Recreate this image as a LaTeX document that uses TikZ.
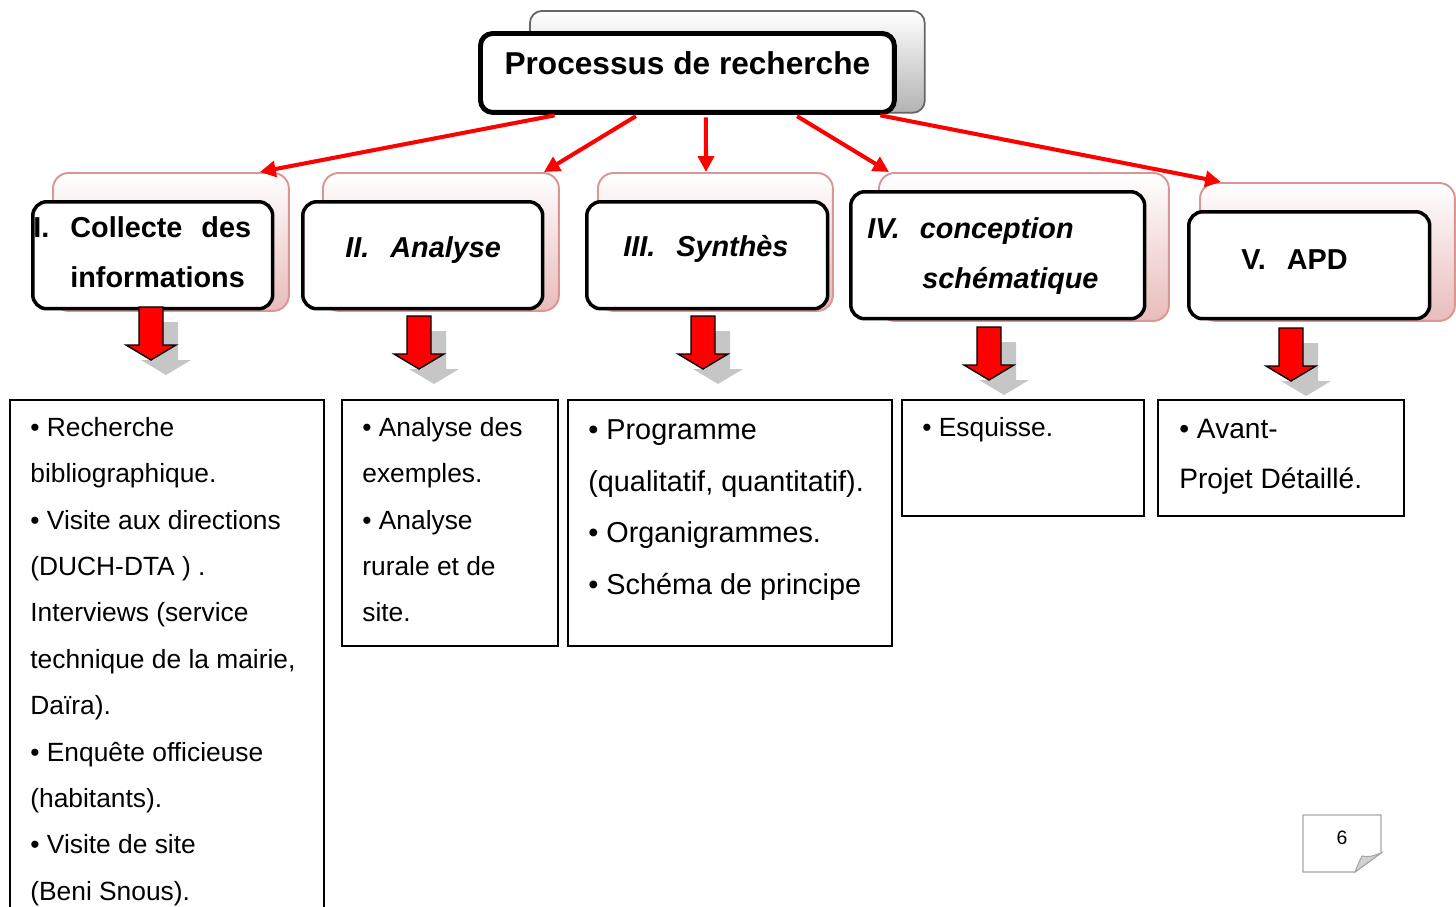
\documentclass[tikz,border=0pt]{standalone}
\usepackage{fontspec}
\setmainfont{Liberation Sans}
\usetikzlibrary{arrows.meta}

\definecolor{pinkline}{RGB}{217,150,148}
\definecolor{pinkfill}{RGB}{232,188,187}

\begin{document}
\begin{tikzpicture}[x=0.02cm, y=-0.02cm,
  titleshadow/.style={draw=gray!80!black, line width=1pt, rounded corners=7pt, top color=white, bottom color=gray!60, anchor=north west, inner sep=0pt},
  titlebox/.style={draw=black, line width=2.8pt, fill=white, rounded corners=7pt, anchor=north west, inner sep=0pt, font=\fontsize{18pt}{22pt}\selectfont\bfseries},
  shadowbox/.style={draw=pinkline, line width=1.1pt, rounded corners=9pt, top color=white, bottom color=pinkfill, anchor=north west, inner sep=0pt},
  phasebox/.style={draw=black, line width=2pt, fill=white, rounded corners=8pt, anchor=north west, inner sep=0pt, minimum height=2.14cm},
  phaselabel/.style={anchor=north west, inner sep=0pt, align=left, font=\fontsize{16.4pt}{28.4pt}\selectfont\bfseries},
  link/.style={draw=red, line width=2.3pt, -{Triangle[length=9pt,width=9pt]}, shorten <=1.4pt},
  listbox/.style={draw=black, line width=0.9pt, anchor=north west, inner sep=0pt},
  listtext/.style={anchor=north west, inner sep=0pt, align=left, font=\fontsize{15pt}{26.4pt}\selectfont},
]
\useasboundingbox (0,0) rectangle (1456,906);

% Title
\node[titleshadow, minimum width=7.9cm, minimum height=2.04cm] (tsh) at (529,10) {};
\node[titlebox, minimum width=8.28cm, minimum height=1.58cm, text depth=0.38cm] (title) at (478,31) {Processus de recherche};

% Phases
\node[shadowbox, minimum width=4.72cm, minimum height=2.76cm] (s1) at (52,172) {};
\node[phasebox, minimum width=4.8cm] (p1) at (31,200) {};
\node[shadowbox, minimum width=4.72cm, minimum height=2.76cm] (s2) at (322,172) {};
\node[phasebox, minimum width=4.8cm] (p2) at (301,200) {};
\node[shadowbox, minimum width=4.7cm, minimum height=2.76cm] (s3) at (597,172) {};
\node[phasebox, minimum width=4.82cm] (p3) at (585,200) {};
\node[shadowbox, minimum width=5.8cm, minimum height=2.96cm] (s4) at (878,172) {};
\node[phasebox, minimum width=5.88cm, minimum height=2.54cm] (p4) at (849,190) {};
\node[shadowbox, minimum width=5.1cm, minimum height=2.76cm] (s5) at (1199,182) {};
\node[phasebox, minimum width=4.82cm] (p5) at (1187,210) {};

\node[phaselabel] (l1) at (33,216) {I.\hspace{0.42cm}Collecte\hspace{0.38cm}des\\\hspace*{0.74cm}informations};
\node[phaselabel] (l2) at (345,236) {\itshape II.\hspace{0.42cm}Analyse};
\node[phaselabel] (l3) at (623,235) {\itshape III.\hspace{0.42cm}Synthès};
\node[phaselabel] (l4) at (867,217) {\itshape IV.\hspace{0.4cm}conception\\\hspace*{1.1cm}\itshape schématique};
\node[phaselabel] (l5) at (1241,249) {V.\hspace{0.42cm}APD};

% Links
\draw[link] ([xshift=1.58cm]title.south west) -- ([xshift=-0.6cm]s1.north east);
\draw[link] ([xshift=3.2cm]title.south west) -- ([xshift=-0.32cm]s2.north east);
\draw[link] ([xshift=4.56cm]title.south west) -- ([xshift=2.18cm]s3.north west);
\draw[link] ([xshift=6.34cm]title.south west) -- ([xshift=0.22cm]s4.north west);
\draw[link] ([xshift=8cm]title.south west) -- ([xshift=0.44cm]s5.north west);

% Block arrows
\foreach \x/\y in {151/307, 419/316, 703/316, 989/327, 1291/328}{
  \fill[gray!45, shift={(\x+15,\y+15)}] (-12,0) -- (12,0) -- (12,38) -- (25,38) -- (0,53) -- (-25,38) -- (-12,38) -- cycle;
  \filldraw[fill=red, draw=black, line width=0.8pt, shift={(\x,\y)}] (-12,0) -- (12,0) -- (12,38) -- (25,38) -- (0,53) -- (-25,38) -- (-12,38) -- cycle;
}

% Lists
\node[listbox, minimum width=6.28cm, minimum height=10.52cm] (b1) at (9,399) {};
\node[listbox, minimum width=4.32cm, minimum height=4.92cm] (b2) at (341,399) {};
\node[listbox, minimum width=6.48cm, minimum height=4.92cm] (b3) at (567,399) {};
\node[listbox, minimum width=4.84cm, minimum height=2.32cm] (b4) at (901,399) {};
\node[listbox, minimum width=4.92cm, minimum height=2.32cm] (b5) at (1157,399) {};

\node[listtext] (t1) at (30,417) {\textbullet\ Recherche\\bibliographique.\\\textbullet\ Visite aux directions\\(DUCH-DTA ) .\\Interviews (service\\technique de la mairie,\\Daïra).\\\textbullet\ Enquête officieuse\\(habitants).\\\textbullet\ Visite de site\\(Beni Snous).};
\node[listtext] (t2) at (362,417) {\textbullet\ Analyse des\\exemples.\\\textbullet\ Analyse\\rurale et de\\site.};
\node[listtext, font=\fontsize{16.4pt}{29.5pt}\selectfont] (t3) at (588,419) {\textbullet\ Programme\\(qualitatif, quantitatif).\\\textbullet\ Organigrammes.\\\textbullet\ Schéma de principe};
\node[listtext] (t4) at (922,417) {\textbullet\ Esquisse.};
\node[listtext, font=\fontsize{16pt}{28.4pt}\selectfont] (t5) at (1179,419) {\textbullet\ Avant-\\Projet Détaillé.};

% Page number
\filldraw[draw=gray!70, fill=white, line width=0.6pt] (1303,815) -- (1381,815) -- (1381,853) -- (1355,872) -- (1303,872) -- cycle;
\filldraw[draw=gray!70, fill=gray!35, line width=0.6pt] (1355,872) .. controls (1359,862) .. (1362,856) .. controls (1370,857) .. (1381,853) -- cycle;
\node[font=\fontsize{11pt}{13pt}\selectfont] (pnum) at (1342,838) {6};

\end{tikzpicture}
\end{document}
